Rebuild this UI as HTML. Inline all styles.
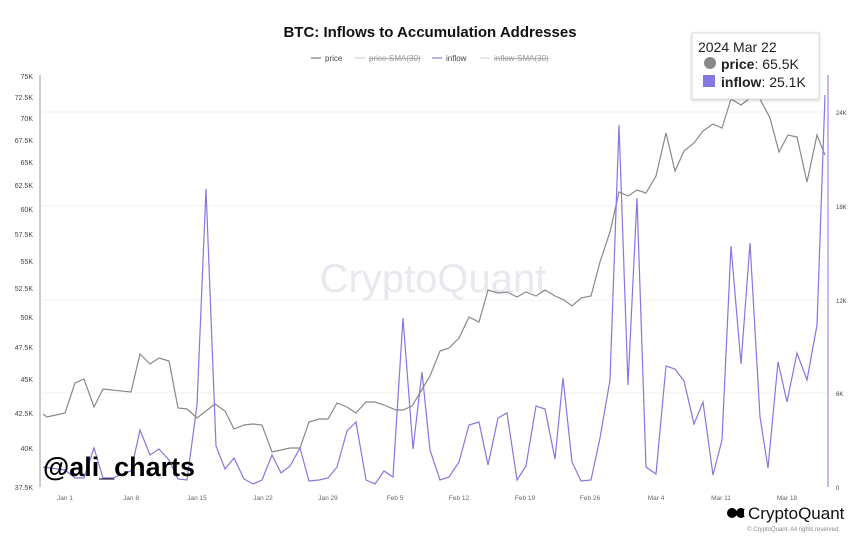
<!DOCTYPE html>
<html><head><meta charset="utf-8"><style>
body{margin:0;background:#fff;}
svg{display:block;font-family:"Liberation Sans",sans-serif;}
</style></head><body>
<svg width="860" height="542" viewBox="0 0 860 542" xmlns="http://www.w3.org/2000/svg">
<defs><filter id="sh" x="-10%" y="-10%" width="120%" height="130%"><feDropShadow dx="0" dy="1" stdDeviation="1.5" flood-color="#000" flood-opacity="0.2"/></filter></defs>
<rect width="860" height="542" fill="#fff"/>
<text x="430" y="37" text-anchor="middle" font-size="15" font-weight="bold" fill="#111">BTC: Inflows to Accumulation Addresses</text>
<g font-size="8" fill="#444">
<line x1="311" y1="58" x2="321" y2="58" stroke="#777" stroke-width="1.2"/><text x="325" y="61">price</text>
<line x1="355" y1="58" x2="365" y2="58" stroke="#ccc"/><text x="369" y="61" fill="#999" text-decoration="line-through">price-SMA(30)</text>
<line x1="432" y1="58" x2="442" y2="58" stroke="#8a7fe0" stroke-width="1.2"/><text x="446" y="61">inflow</text>
<line x1="480" y1="58" x2="490" y2="58" stroke="#ccc"/><text x="494" y="61" fill="#999" text-decoration="line-through">inflow-SMA(30)</text>
</g>
<g stroke="#f2f2f2" stroke-width="1">
<line x1="42" y1="112" x2="828" y2="112"/><line x1="42" y1="206" x2="828" y2="206"/>
<line x1="42" y1="300" x2="828" y2="300"/><line x1="42" y1="393" x2="828" y2="393"/>
</g>
<line x1="40" y1="75" x2="40" y2="487" stroke="#999" stroke-width="1"/>
<g font-size="7" fill="#444" text-anchor="end">
<text x="33" y="79">75K</text><text x="33" y="100">72.5K</text><text x="33" y="121">70K</text>
<text x="33" y="143">67.5K</text><text x="33" y="165">65K</text><text x="33" y="188">62.5K</text>
<text x="33" y="212">60K</text><text x="33" y="237">57.5K</text><text x="33" y="264">55K</text>
<text x="33" y="291">52.5K</text><text x="33" y="320">50K</text><text x="33" y="350">47.5K</text>
<text x="33" y="382">45K</text><text x="33" y="416">42.5K</text><text x="33" y="451">40K</text>
<text x="33" y="490">37.5K</text>
</g>
<g font-size="6" fill="#444">
<text x="836" y="115">24K</text><text x="836" y="209">18K</text><text x="836" y="303">12K</text>
<text x="836" y="396">6K</text><text x="836" y="490">0</text>
</g>
<g font-size="6.5" fill="#666" text-anchor="middle">
<text x="65" y="500">Jan 1</text><text x="131" y="500">Jan 8</text><text x="197" y="500">Jan 15</text>
<text x="263" y="500">Jan 22</text><text x="328" y="500">Jan 29</text><text x="395" y="500">Feb 5</text>
<text x="459" y="500">Feb 12</text><text x="525" y="500">Feb 19</text><text x="590" y="500">Feb 26</text>
<text x="656" y="500">Mar 4</text><text x="721" y="500">Mar 11</text><text x="787" y="500">Mar 18</text>
</g>
<text x="433" y="292" text-anchor="middle" font-size="40" fill="#e8e8ee">CryptoQuant</text>
<polyline fill="none" stroke="#888" stroke-width="1.2" points="43,414 47,417 65,413 75,383 84,379 94,407 103,389 131,392 140,354 150,364 159,358 169,361 178,408 187,409 197,418 215,404 225,411 234,429 244,425 253,424 262,425 272,452 290,448 300,448 309,422 319,419 328,419 337,403 347,407 356,413 366,402 375,402 384,405 396,410 403,410 412,406 430,376 440,351 449,348 459,338 469,317 479,322 488,290 498,293 507,292 517,297 526,292 536,296 545,290 555,296 564,300 572,306 581,298 591,296 600,262 610,232 619,192 628,196 637,190 646,193 656,176 666,133 675,171 684,151 694,143 703,131 713,124 722,128 731,99 741,105 750,98 760,99 770,118 779,152 788,135 797,137 807,182 817,135 825,155"/>
<polyline fill="none" stroke="#8378e0" stroke-width="1.2" points="43,467 65,470 75,478 84,478 94,448 103,478 113,478 122,474 131,471 140,430 150,455 159,449 169,460 178,479 187,480 197,405 206,189 216,446 225,469 234,458 244,479 253,484 262,480 272,455 281,473 290,466 300,448 309,481 319,480 328,478 337,467 347,431 356,422 366,480 375,484 384,471 393,477 403,318 413,449 422,372 430,450 440,480 449,477 459,462 469,425 479,422 488,465 498,418 507,413 517,480 526,466 536,406 545,409 555,459 563,378 572,462 581,481 591,480 600,438 610,380 619,125 628,385 637,198 646,467 656,474 666,366 675,369 684,381 694,424 703,402 713,475 722,440 731,246 741,364 750,243 760,417 768,468 778,362 787,402 797,353 807,380 817,325 825,95"/>
<line x1="828" y1="75" x2="828" y2="487" stroke="#8378e0" stroke-width="1"/>
<rect x="692" y="33" width="127" height="66" fill="#fff" stroke="#ddd" stroke-width="1" filter="url(#sh)"/>
<text x="698" y="52" font-size="14" fill="#222">2024 Mar 22</text>
<circle cx="710" cy="63" r="6" fill="#888"/>
<text x="721" y="69" font-size="14" fill="#222"><tspan font-weight="bold">price</tspan>: 65.5K</text>
<rect x="703" y="75" width="12" height="12" fill="#8378e0"/>
<text x="721" y="87" font-size="14" fill="#222"><tspan font-weight="bold">inflow</tspan>: 25.1K</text>
<text x="43" y="476" font-size="27" font-weight="bold" fill="#000" textLength="152" lengthAdjust="spacingAndGlyphs">@ali_charts</text>
<g fill="#000"><circle cx="732" cy="513" r="5"/><circle cx="741" cy="513" r="5"/><rect x="744" y="510" width="4" height="6" fill="#fff"/></g>
<text x="748" y="519" font-size="17" fill="#111">CryptoQuant</text>
<text x="840" y="531" text-anchor="end" font-size="6" fill="#888">© CryptoQuant. All rights reserved.</text>
</svg>
</body></html>
